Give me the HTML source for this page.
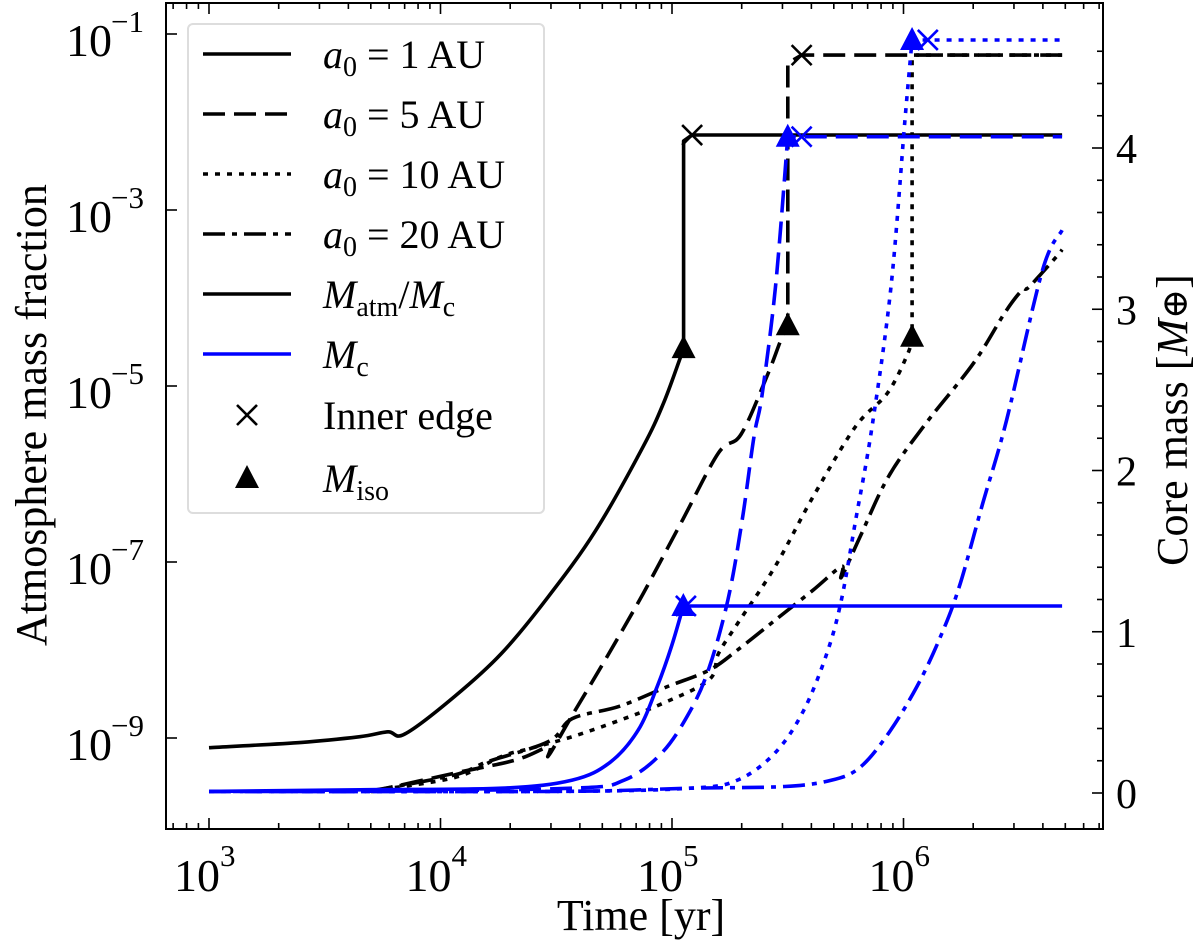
<!DOCTYPE html>
<html><head><meta charset="utf-8">
<style>
html,body{margin:0;padding:0;background:#fff;}
svg text{font-family:"Liberation Serif","DejaVu Serif",serif;fill:#000;}
</style></head>
<body>
<svg id="chart" width="1200" height="946" viewBox="0 0 1200 946" xmlns="http://www.w3.org/2000/svg" style="position:absolute;left:0;top:0">
<g id="series"></g>
<g id="axes"></g>
</svg>
<script>
// ---- data (log10 time, log10 atmosphere fraction / core mass) ----
const atm1T = [3,3.4,3.652,3.773,3.846,4.06,4.263,4.467,4.671,4.875,4.964,5.037,5.05];
const atm1Y = [-9.11,-9.05,-8.985,-8.93,-8.955,-8.53,-8.04,-7.39,-6.64,-5.69,-5.19,-4.67,-4.57];
const atm5T = [3.7,4.06,4.325,4.467,4.467,4.567,4.712,4.875,5.038,5.201,5.298,5.41,5.47,5.5];
const atm5Y = [-9.61,-9.4,-9.25,-9.1,-9.2,-8.75,-8.11,-7.36,-6.56,-5.76,-5.55,-4.89,-4.48,-4.31];
const atm10T = [3.7,4.06,4.263,4.385,4.569,4.773,4.957,5.16,5.201,5.283,5.446,5.609,5.793,5.931,6.019,6.037];
const atm10Y = [-9.6,-9.45,-9.21,-9.12,-8.985,-8.8,-8.61,-8.34,-8.04,-7.7,-7.05,-6.26,-5.46,-5.08,-4.63,-4.44];
const atm20T = [3.7,4.06,4.202,4.467,4.569,4.773,4.976,5.16,5.283,5.446,5.609,5.732,5.732,5.813,5.935,6.098,6.303,6.437,6.512,6.542,6.661,6.685];
const atm20Y = [-9.6,-9.42,-9.27,-9.04,-8.78,-8.64,-8.42,-8.23,-8.0,-7.66,-7.32,-7.05,-7.17,-6.71,-6.03,-5.42,-4.74,-4.17,-3.91,-3.875,-3.53,-3.45];
const atmPlateau = [-2.148,-1.24,-1.24];
const mc1T = [3,3.652,4.263,4.569,4.732,4.854,4.936,4.998,5.049];
const mc1M = [0.01,0.02,0.03,0.08,0.19,0.39,0.66,0.91,1.16];
const mc5T = [3,3.652,4.57,4.794,4.957,5.079,5.161,5.242,5.303,5.354,5.389,5.447,5.5];
const mc5M = [0.01,0.01,0.03,0.08,0.25,0.51,0.78,1.2,1.69,2.21,2.47,3.14,4.07];
const mc10T = [3,4.5,5.079,5.283,5.446,5.568,5.67,5.732,5.793,5.864,5.946,6.006,6.037];
const mc10M = [0.01,0.01,0.03,0.08,0.25,0.51,0.87,1.2,1.69,2.27,3.14,4.17,4.67];
const mc20T = [3,4.5,5.079,5.487,5.69,5.813,5.935,6.058,6.16,6.241,6.343,6.445,6.6,6.685];
const mc20M = [0.01,0.01,0.03,0.04,0.08,0.16,0.37,0.66,0.97,1.28,1.8,2.31,3.24,3.49];
const edgeT = [5.087,5.56];
const edgeMcT = [5.06,5.56,6.105];
const isoT = [5.05,5.5,6.037];
const isoY = [-4.57,-4.31,-4.44];
const xTickLabels = ["3","4","5","6"];
const yTickLabels = ["-1","-3","-5","-7","-9"];
const rTickLabels = ["0","1","2","3","4"];
const tEnd = 6.685;

// ---- axis functions ----
const X0=166, X1=1103, Y0=3, Y1=829;
const sx = lt => 209 + (lt-3)*231.5;
const sy = ly => 34 + (-1-ly)*88;
const sr = m => 793 - m*161.25;
const NS="http://www.w3.org/2000/svg";
function mk(tag, attrs, parent){const e=document.createElementNS(NS,tag);for(const k in attrs)e.setAttribute(k,attrs[k]);parent.appendChild(e);return e;}
const S=document.getElementById('series'), A=document.getElementById('axes');
const DASH={solid:"",dash:"22 9",dot:"5 7",dashdot:"22 7 5 7"};
function smoothPath(pts, tail){
  let d='M'+pts[0][0].toFixed(1)+','+pts[0][1].toFixed(1);
  for(let i=0;i<pts.length-1;i++){
    const p0=pts[Math.max(0,i-1)], p1=pts[i], p2=pts[i+1], p3=pts[Math.min(pts.length-1,i+2)];
    const c1=[p1[0]+(p2[0]-p0[0])/6, p1[1]+(p2[1]-p0[1])/6];
    const c2=[p2[0]-(p3[0]-p1[0])/6, p2[1]-(p3[1]-p1[1])/6];
    d+=` C${c1[0].toFixed(1)},${c1[1].toFixed(1)} ${c2[0].toFixed(1)},${c2[1].toFixed(1)} ${p2[0].toFixed(1)},${p2[1].toFixed(1)}`;
  }
  (tail||[]).forEach(q=>{d+=` L${q[0].toFixed(1)},${q[1].toFixed(1)}`;});
  return d;
}
function line(pts, tail, color, style, name){
  const p=mk('path',{d:smoothPath(pts,tail),fill:'none',stroke:color,'stroke-width':3.6,'stroke-dasharray':DASH[style],'stroke-linejoin':'round'},S);
  
  
}
function cross(x,y,color,name){
  const g=mk('g',{stroke:color,'stroke-width':2.6},S);
  
  
  mk('line',{x1:x-10,y1:y-10,x2:x+10,y2:y+10},g);mk('line',{x1:x-10,y1:y+10,x2:x+10,y2:y-10},g);
}
function tri(x,y,color,name){
  const t=mk('polygon',{points:`${x},${y-13} ${x-12},${y+10} ${x+12},${y+10}`,fill:color},S);
  
  
}
function atmPts(T,Y){return T.map((t,i)=>[sx(t),sy(Y[i])]);}
function mcPts(T,M){return T.map((t,i)=>[sx(t),sr(M[i])]);}

line(atmPts(atm10T,atm10Y),[[sx(atm10T[atm10T.length-1]),sy(atmPlateau[2])],[sx(tEnd),sy(atmPlateau[2])]],'#000','dot','atm-10au-line');
line(atmPts(atm1T,atm1Y),[[sx(atm1T[atm1T.length-1]),sy(atmPlateau[0])+6],[sx(edgeT[0]),sy(atmPlateau[0])],[sx(tEnd),sy(atmPlateau[0])]],'#000','solid','atm-1au-line');
line(atmPts(atm5T,atm5Y),[[sx(atm5T[atm5T.length-1]),sy(atmPlateau[1])+8],[sx(edgeT[1]),sy(atmPlateau[1])],[sx(tEnd),sy(atmPlateau[1])]],'#000','dash','atm-5au-line');
line(atmPts(atm20T,atm20Y),[],'#000','dashdot','atm-20au-line');
const mcLast=(M)=>M[M.length-1];
line(mcPts(mc1T,mc1M),[[sx(tEnd),sr(mcLast(mc1M))]],'#0000ff','solid','mc-1au-line');
line(mcPts(mc5T,mc5M),[[sx(tEnd),sr(mcLast(mc5M))]],'#0000ff','dash','mc-5au-line');
line(mcPts(mc10T,mc10M),[[sx(tEnd),sr(mcLast(mc10M))]],'#0000ff','dot','mc-10au-line');
line(mcPts(mc20T,mc20M),[],'#0000ff','dashdot','mc-20au-line');
isoT.forEach((t,i)=>tri(sx(t),sy(isoY[i]),'#000','iso-marker-atm'));
cross(sx(edgeT[0]),sy(atmPlateau[0]),'#000','edge-marker-atm-1au');
cross(sx(edgeT[1]),sy(atmPlateau[1]),'#000','edge-marker-atm-5au');
const mcPlat=[mcLast(mc1M),mcLast(mc5M),mcLast(mc10M)];
[mc1T,mc5T,mc10T].forEach((T,i)=>tri(sx(T[T.length-1]),sr(mcPlat[i]),'#0000ff','iso-marker-mc'));
edgeMcT.forEach((t,i)=>cross(sx(t),sr(mcPlat[i]),'#0000ff','edge-marker-mc'));

const fr=mk('rect',{x:X0,y:Y0,width:X1-X0,height:Y1-Y0,fill:'none',stroke:'#000','stroke-width':2},A);
 
for(let d=2; d<=6; d++){
  for(let m=1;m<=9;m++){
    const lt=d+Math.log10(m); const x=sx(lt);
    if(x<X0||x>X1) continue;
    const len=m===1?11:6;
    mk('line',{x1:x,y1:Y1,x2:x,y2:Y1-len,stroke:'#000','stroke-width':1.6},A);
    mk('line',{x1:x,y1:Y0,x2:x,y2:Y0+len,stroke:'#000','stroke-width':1.6},A);
  }
}
xTickLabels.forEach(s=>{
  const x=sx(+s);
  const t=mk('text',{x:x-12,y:891,'font-size':46,'text-anchor':'middle'},A);
  t.textContent='10';
   
  const e=mk('text',{x:x+11,y:866,'font-size':31},A); e.textContent=s;
});
yTickLabels.forEach(s=>{
  const y=sy(+s);
  mk('line',{x1:X0,y1:y,x2:X0+11,y2:y,stroke:'#000','stroke-width':1.6},A);
  const t=mk('text',{x:112,y:y+22,'font-size':46,'text-anchor':'end'},A);
  t.textContent='10';
   
  const e=mk('text',{x:111,y:y-2,'font-size':31},A); e.textContent='\u2212'+s.slice(1);
});
for(let v=0; v<=4.8; v+=0.2){
  const y=sr(v); const major=Math.abs(v-Math.round(v))<1e-6;
  mk('line',{x1:X1,y1:y,x2:X1-(major?11:6),y2:y,stroke:'#000','stroke-width':1.6},A);
}
rTickLabels.forEach(s=>{
  const t=mk('text',{x:1116,y:sr(+s)+15,'font-size':42},A); t.textContent=s;
   
});
</script>
<svg width="1200" height="946" style="position:absolute;left:0;top:0" xmlns="http://www.w3.org/2000/svg">
<text x="641" y="930" font-size="44" text-anchor="middle" font-family="Liberation Serif, serif">Time [yr]</text>
<text transform="translate(46,415) rotate(-90)" font-size="44" text-anchor="middle" font-family="Liberation Serif, serif">Atmosphere mass fraction</text>
<text transform="translate(1187,420) rotate(-90)" font-size="44" text-anchor="middle" font-family="Liberation Serif, serif">Core mass [<tspan font-style="italic">M</tspan><tspan font-size="36">⊕</tspan>]</text>
<g font-family="Liberation Serif, serif" font-size="40">
<rect x="188" y="24" width="356" height="489" rx="5" fill="#fff" fill-opacity="0.85" stroke="#ddd" stroke-width="2"/>
<line x1="203" y1="54" x2="291" y2="54" stroke="#000" stroke-width="3.6"/>
<text x="323" y="68"><tspan font-style="italic">a</tspan><tspan font-size="28" dy="8">0</tspan><tspan dy="-8"> = 1 AU</tspan></text>
<line x1="203" y1="114" x2="291" y2="114" stroke="#000" stroke-width="3.6" stroke-dasharray="22 9"/>
<text x="323" y="128"><tspan font-style="italic">a</tspan><tspan font-size="28" dy="8">0</tspan><tspan dy="-8"> = 5 AU</tspan></text>
<line x1="203" y1="174" x2="291" y2="174" stroke="#000" stroke-width="3.6" stroke-dasharray="5 7"/>
<text x="323" y="188"><tspan font-style="italic">a</tspan><tspan font-size="28" dy="8">0</tspan><tspan dy="-8"> = 10 AU</tspan></text>
<line x1="203" y1="234" x2="291" y2="234" stroke="#000" stroke-width="3.6" stroke-dasharray="22 7 5 7"/>
<text x="323" y="248"><tspan font-style="italic">a</tspan><tspan font-size="28" dy="8">0</tspan><tspan dy="-8"> = 20 AU</tspan></text>
<line x1="203" y1="294" x2="291" y2="294" stroke="#000" stroke-width="3.6"/>
<text x="323" y="308"><tspan font-style="italic">M</tspan><tspan font-size="28" dy="8">atm</tspan><tspan dy="-8">/</tspan><tspan font-style="italic">M</tspan><tspan font-size="28" dy="8">c</tspan></text>
<line x1="203" y1="354" x2="291" y2="354" stroke="#0000ff" stroke-width="3.6"/>
<text x="323" y="368"><tspan font-style="italic">M</tspan><tspan font-size="28" dy="8">c</tspan></text>
<g stroke="#000" stroke-width="2.6"><line x1="237" y1="405" x2="257" y2="425"/><line x1="237" y1="425" x2="257" y2="405"/></g>
<text x="323" y="429">Inner edge</text>
<polygon points="247,465 235,488 259,488" fill="#000"/>
<text x="323" y="492"><tspan font-style="italic">M</tspan><tspan font-size="28" dy="8">iso</tspan></text>
</g>
</svg>
</body></html>
